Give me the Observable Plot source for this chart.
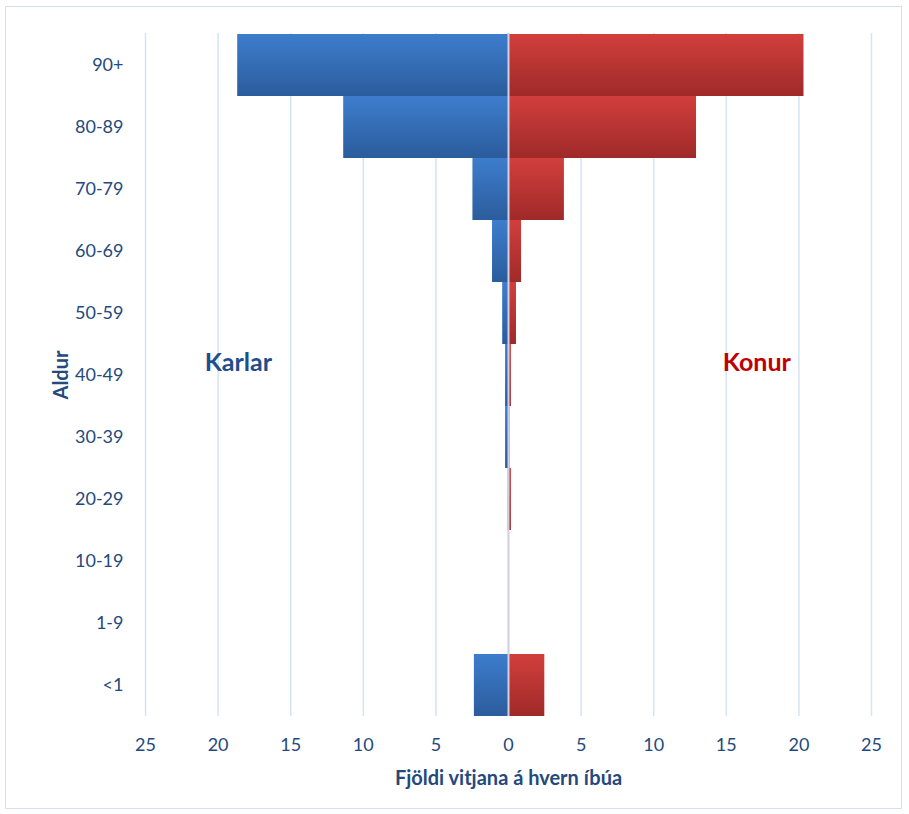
<!DOCTYPE html>
<html><head><meta charset="utf-8">
<script src="https://cdn.jsdelivr.net/npm/d3@7"></script>
<script src="https://cdn.jsdelivr.net/npm/@observablehq/plot@0.6"></script>
<style>
body{margin:0;background:#fff;}
#wrap{position:relative;width:909px;height:814px;}
#border{position:absolute;left:5px;top:6px;width:897px;height:803px;border:1px solid #d3e0f1;box-sizing:border-box;}
#chart{position:absolute;left:0;top:0;}
</style></head>
<body><div id="wrap"><div id="border"></div><div id="chart"></div></div>
<script>
const ages = ["90+","80-89","70-79","60-69","50-59","40-49","30-39","20-29","10-19","1-9","<1"];
const karlar = [18.65, 11.35, 2.45, 1.1, 0.4, 0.2, 0.2, 0.02, 0, 0, 2.35];
const konur  = [20.35, 12.95, 3.85, 0.9, 0.55, 0.2, 0.1, 0.2, 0, 0, 2.5];
const xTicks = [-25,-20,-15,-10,-5,0,5,10,15,20,25];
const labels = [{text:"Karlar", x:-18.6, y:"40-49", color:"#1f4e8c"},{text:"Konur", x:17.1, y:"40-49", color:"#c00000"}];

const men = ages.map((a,i)=>({age:a, v:-karlar[i]}));
const women = ages.map((a,i)=>({age:a, v:konur[i]}));
const txt = "#24497c";

const chart = Plot.plot({
  width: 909, height: 814,
  marginLeft: 145, marginRight: 38, marginTop: 33, marginBottom: 98,
  style: {fontFamily: "Lato, 'Open Sans', sans-serif", fontSize: "17px", color: txt, background: "transparent"},
  x: {domain: [-25, 25], ticks: xTicks, tickFormat: d => Math.abs(d), label: "Fjöldi vitjana á hvern íbúa", labelAnchor: "center", labelArrow: "none"},
  y: {domain: ages, padding: 0, label: "Aldur", labelArrow: "none"},
  marks: [
    Plot.ruleX(xTicks, {stroke: "#d6e3f3", strokeWidth: 1.5}),
    Plot.barX(men, {x1: 0, x2: "v", y: "age", fill: "url(#gBlue)", inset: 0, style: {filter: "drop-shadow(2px 2px 2px rgba(0,0,0,0.28))"}}),
    Plot.barX(women, {x1: 0, x2: "v", y: "age", fill: "url(#gRed)", inset: 0, style: {filter: "drop-shadow(2px 2px 2px rgba(0,0,0,0.28))"}}),
    Plot.ruleX([0], {stroke: "#d4d0e3", strokeWidth: 2}),
    Plot.text(labels, {x: "x", y: "y", text: "text", fill: "color", fontWeight: "bold", fontSize: 25, dy: -13}),
    Plot.axisX({ticks: xTicks, tickSize: 0, tickPadding: 22, tickFormat: d => Math.abs(d), fontSize: 18, label: "Fjöldi vitjana á hvern íbúa", labelAnchor: "center", labelArrow: "none", labelOffset: 68}),
    Plot.axisY({tickSize: 0, tickPadding: 22, fontSize: 18, label: "Aldur", labelAnchor: "center", labelArrow: "none", labelOffset: 92})
  ]
});

const defs = d3.select(chart).insert("defs", ":first-child");
function grad(id, c1, c2){
  const g = defs.append("linearGradient").attr("id", id).attr("x1",0).attr("y1",0).attr("x2",0).attr("y2",1);
  g.append("stop").attr("offset","0%").attr("stop-color",c1);
  g.append("stop").attr("offset","100%").attr("stop-color",c2);
}
grad("gBlue", "#3d7dcd", "#2b5c9c");
grad("gRed", "#d13f3c", "#9f2a29");
d3.select(chart).selectAll("[aria-label='x-axis label'] text, [aria-label='y-axis label'] text, [aria-label='x-axis label'], [aria-label='y-axis label']").attr("font-weight","bold").attr("font-size", 20);
document.getElementById("chart").appendChild(chart);
</script></body></html>
